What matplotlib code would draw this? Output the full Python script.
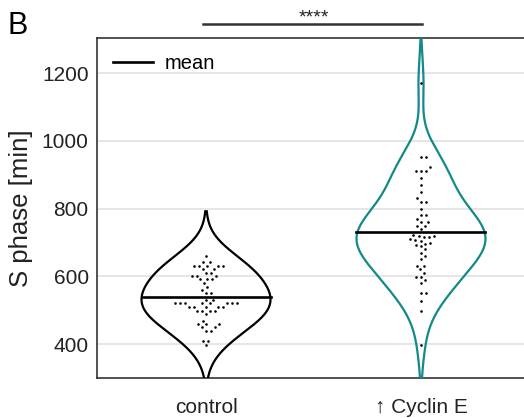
import numpy as np
import matplotlib
matplotlib.use('Agg')
import matplotlib.pyplot as plt

plt.rcParams['font.family'] = ['Liberation Sans', 'DejaVu Sans']

# S phase durations [min]
control = np.array([660, 641, 641, 631, 631, 631, 631, 631, 621, 621, 609, 609,
                    601, 601, 601, 591, 591, 591, 580, 568, 560, 550, 550, 530, 530,
                    520, 520, 520, 520, 520, 520, 520, 520, 510, 510, 510, 510, 510,
                    499, 499, 499, 499, 489, 469, 459, 459, 459, 450, 450, 440, 440,
                    410, 410, 397])
cyclin_e = np.array([1172, 952, 952, 922, 912, 912, 912, 891, 871, 849, 830, 820, 820,
                     800, 780, 780, 770, 761, 761, 749, 749, 739, 722, 719, 719, 716,
                     716, 710, 708, 705, 700, 697, 694, 690, 680, 670, 660, 650, 631,
                     631, 621, 611, 599, 599, 589, 580, 550, 550, 528, 499, 398])
groups = [control, cyclin_e]
labels = ['control', '\u2191 Cyclin E']
colors = ['black', '#12898a']
bandwidths = [60, 70]

W, H = 524, 418
fig = plt.figure(figsize=(W / 100, H / 100), dpi=100)
ax = fig.add_axes([97 / W, 39.7 / H, 433 / W, 340 / H])
ax.set_xlim(-0.507, 1.507)
ax.set_ylim(299, 1303)

px_per_x = 215.0
px_per_y = 340 / (1303 - 299)


def kde(data, grid, bw):
    z = (grid[:, None] - data[None, :]) / bw
    return np.exp(-0.5 * z ** 2).sum(axis=1)


def swarm(vals, d=5.0):
    ys = vals * px_per_y
    xs = np.zeros(len(vals))
    placed = []
    for i in np.argsort(vals):
        y = ys[i]
        cands = [0.0]
        for px, py in placed:
            dy = y - py
            if abs(dy) < d:
                dx = np.sqrt(d * d - dy * dy)
                cands += [px + dx, px - dx]
        cands.sort(key=abs)
        for c in cands:
            if all((c - px) ** 2 + (y - py) ** 2 >= d * d - 1e-6 for px, py in placed):
                break
        placed.append((c, y))
        xs[i] = c
    return xs / px_per_x


half_w = 0.3
for i, (data, col, bw) in enumerate(zip(groups, colors, bandwidths)):
    grid = np.linspace(data.min() - 130, data.max() + 132, 400)
    dens = kde(data, grid, bw)
    dens = dens / dens.max() * half_w
    ax.plot(i - dens, grid, color=col, lw=1.6, zorder=3)
    ax.plot(i + dens, grid, color=col, lw=1.6, zorder=3)
    ax.scatter(i + swarm(data), data, s=3.5, color='black', zorder=4, linewidths=0)
    m = data.mean()
    ax.plot([i - half_w, i + half_w], [m, m], color='black', lw=1.9, zorder=5,
            label='mean' if i == 0 else None)

ax.set_yticks([400, 600, 800, 1000, 1200])
ax.set_xticks([0, 1])
ax.set_xticklabels(labels)
ax.tick_params(axis='both', length=0, labelsize=15, colors='#222222')
ax.tick_params(axis='y', pad=6)
ax.tick_params(axis='x', pad=14)
ax.yaxis.grid(True, color='#e2e2e2', lw=1.2)
ax.set_axisbelow(True)
for s in ['left', 'bottom', 'top']:
    ax.spines[s].set_color('#333333')
    ax.spines[s].set_linewidth(1.2)
ax.set_ylabel('S phase [min]', fontsize=18.5, color='#222222')
ax.yaxis.set_label_coords(-0.148, 0.5)

leg = ax.legend(loc='upper left', frameon=False, fontsize=14.5, handlelength=2.0,
                handletextpad=0.55, borderaxespad=0.4)

# significance bar
ax.plot([-0.014, 1.005], [1.041, 1.041], color='#333333', lw=1.8,
        transform=ax.get_xaxis_transform(), clip_on=False)
ax.text(0.5, 1.046, '****', transform=ax.get_xaxis_transform(), ha='center',
        va='baseline', fontsize=14, color='#222222')

fig.text(7 / W, 1 - 34 / H, 'B', fontsize=22, ha='left', va='baseline')

fig.savefig('out.png', dpi=100)
